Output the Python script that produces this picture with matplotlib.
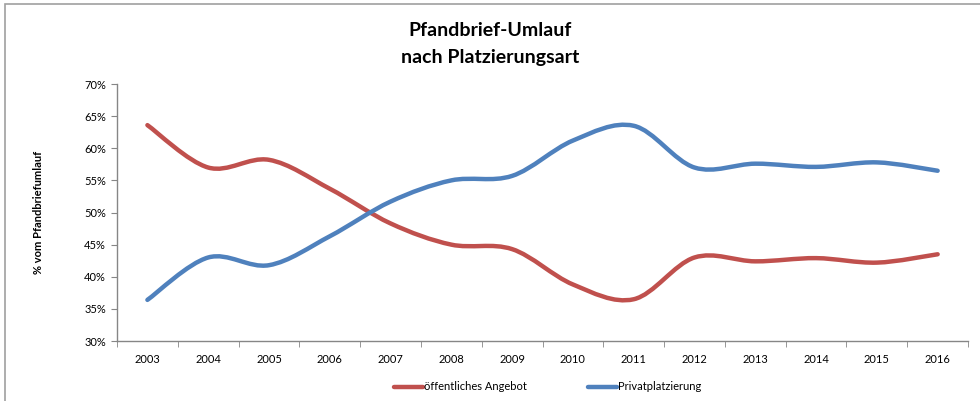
import matplotlib
matplotlib.use("Agg")
import matplotlib.pyplot as plt
import numpy as np
from matplotlib.path import Path
from matplotlib.patches import PathPatch, Rectangle
from matplotlib.lines import Line2D
from matplotlib.ticker import MultipleLocator, FuncFormatter

plt.rcParams['font.family'] = ['Lato', 'DejaVu Sans']

# Anteile am Pfandbrief-Umlauf in %
jahre = ["2003", "2004", "2005", "2006", "2007", "2008", "2009",
         "2010", "2011", "2012", "2013", "2014", "2015", "2016"]
oeffentlich = [63.6, 57.0, 58.2, 53.7, 48.3, 45.0, 44.3,
               38.8, 36.5, 43.0, 42.4, 42.9, 42.2, 43.5]
privat = [36.4, 43.0, 41.8, 46.3, 51.7, 55.0, 55.7,
          61.2, 63.5, 57.0, 57.6, 57.1, 57.8, 56.5]

rot = "#C0504D"
blau = "#4F81BD"
grau = "#868686"


def glatte_linie(x, y):
    # geglaettete Linie wie in Excel: kubische Bezier-Segmente (Catmull-Rom)
    pts = np.column_stack([x, y]).astype(float)
    n = len(pts)
    verts = [pts[0]]
    codes = [Path.MOVETO]
    for i in range(n - 1):
        p0 = pts[max(i - 1, 0)]
        p1 = pts[i]
        p2 = pts[i + 1]
        p3 = pts[min(i + 2, n - 1)]
        c1 = p1 + (p2 - p0) / 6.0
        c2 = p2 - (p3 - p1) / 6.0
        verts += [c1, c2, p2]
        codes += [Path.CURVE4] * 3
    return Path(verts, codes)


fig = plt.figure(figsize=(9.8, 4.01), dpi=100)
ax = fig.add_axes([0.1194, 0.1496, 0.8684, 0.6409])

# Rahmen um das Diagramm
fig.patches.append(Rectangle((5 / 980, -0.1), 1.2, 1.1 - 3.5 / 401,
                             transform=fig.transFigure, fill=False,
                             edgecolor="#A0A0A0", linewidth=1.2))

x = np.arange(len(jahre))
for werte, farbe in [(oeffentlich, rot), (privat, blau)]:
    patch = PathPatch(glatte_linie(x, werte), facecolor="none",
                      edgecolor=farbe, linewidth=3.2, capstyle="round",
                      joinstyle="round")
    ax.add_patch(patch)

ax.set_xlim(-0.5, len(jahre) - 0.5)
ax.set_ylim(30, 70)
ax.yaxis.set_major_locator(MultipleLocator(5))
ax.yaxis.set_major_formatter(FuncFormatter(lambda v, p: "%d%%" % v))
ax.set_xticks(x)
ax.set_xticklabels(jahre)
ax.set_xticks(np.arange(-0.5, len(jahre)), minor=True)
ax.tick_params(axis="x", which="major", length=0, pad=9, labelsize=8)
ax.tick_params(axis="x", which="minor", length=4, color=grau, direction="out")
ax.tick_params(axis="y", length=4, color=grau, labelsize=8, pad=4)

for s in ["top", "right"]:
    ax.spines[s].set_visible(False)
for s in ["left", "bottom"]:
    ax.spines[s].set_color(grau)
    ax.spines[s].set_linewidth(1.0)

ax.set_ylabel("% vom Pfandbriefumlauf", fontsize=8, fontweight="bold",
              labelpad=29)

fig.text(0.5, 1 - 30 / 401, "Pfandbrief-Umlauf", ha="center", va="center",
         fontsize=14, fontweight="bold")
fig.text(0.5, 1 - 58 / 401, "nach Platzierungsart", ha="center",
         va="center", fontsize=14, fontweight="bold")

handles = [Line2D([], [], color=rot, linewidth=3.2, solid_capstyle="round"),
           Line2D([], [], color=blau, linewidth=3.2, solid_capstyle="round")]
fig.legend(handles, ["öffentliches Angebot", "Privatplatzierung"],
           loc="center", bbox_to_anchor=(0.5587, 1 - 387 / 401), ncol=2,
           frameon=False, fontsize=8, handlelength=2.6, handletextpad=0.1,
           columnspacing=5.5)

fig.savefig("out.png", dpi=100)
